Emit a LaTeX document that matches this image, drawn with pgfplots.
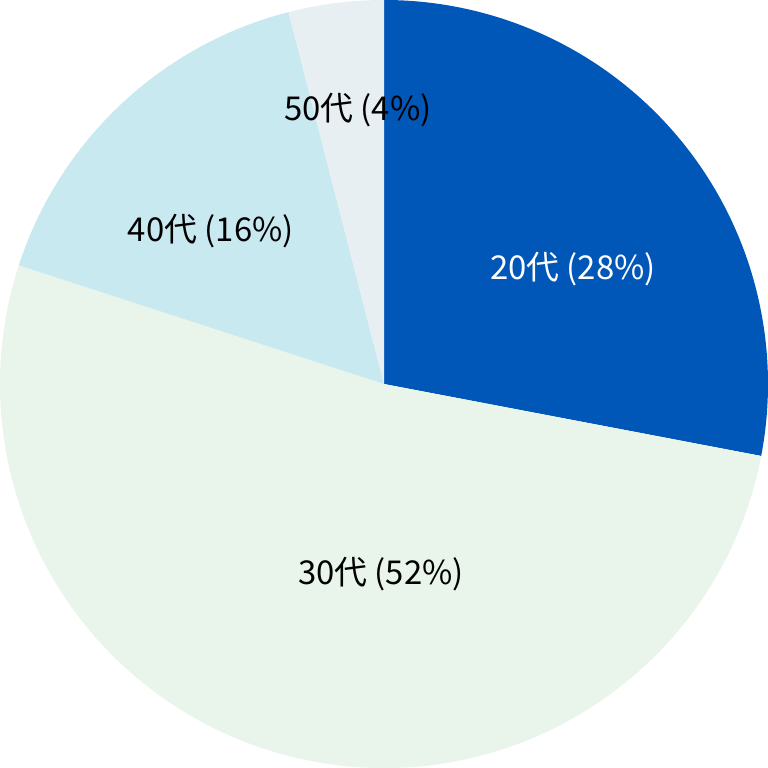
\documentclass[border=0pt]{standalone}
\usepackage{pgfplots}
\usepackage{pgfplotstable}
\pgfplotsset{compat=1.18}
\usepackage{fontspec}
\setmainfont{Noto Sans CJK JP}

\definecolor{c20}{HTML}{0057B8}
\definecolor{c30}{HTML}{E9F5EB}
\definecolor{c40}{HTML}{C9E9F0}
\definecolor{c50}{HTML}{E8EFF2}

% share in percent, clockwise from 12 o'clock
\pgfplotstableread{
share col
28 c20
52 c30
16 c40
4  c50
}\agedata

\begin{document}
\begin{tikzpicture}
\begin{axis}[
    width=768bp, height=768bp, scale only axis,
    xmin=-1, xmax=1, ymin=-1, ymax=1,
    hide axis, clip=false,
]
\def\angstart{90}
\pgfplotsforeachungrouped \i in {0,...,3}{
    \pgfplotstablegetelem{\i}{share}\of\agedata
    \let\sh\pgfplotsretval
    \pgfplotstablegetelem{\i}{col}\of\agedata
    \let\cl\pgfplotsretval
    \pgfmathsetmacro\angend{\angstart-3.6*\sh}
    \edef\cmd{\noexpand\fill[\cl] (axis cs:0,0) -- (axis cs:{cos(\angstart)},{sin(\angstart)})
        arc[start angle=\angstart, end angle=\angend, radius=384bp] -- cycle;}
    \cmd
    \global\let\angstart\angend
}
\node[white, font=\fontsize{33}{36}\selectfont] at (axis cs:0.492,0.299) {20代 (28\%)};
\node[black, font=\fontsize{33}{36}\selectfont] at (axis cs:-0.008,-0.495) {30代 (52\%)};
\node[black, font=\fontsize{33}{36}\selectfont] at (axis cs:-0.451,0.398) {40代 (16\%)};
\node[black, font=\fontsize{33}{36}\selectfont] at (axis cs:-0.068,0.714) {50代 (4\%)};
\coordinate (sw) at (rel axis cs:0,0);
\coordinate (ne) at (rel axis cs:1,1);
\end{axis}
\pgfresetboundingbox
\path (sw) rectangle (ne);
\end{tikzpicture}
\end{document}
